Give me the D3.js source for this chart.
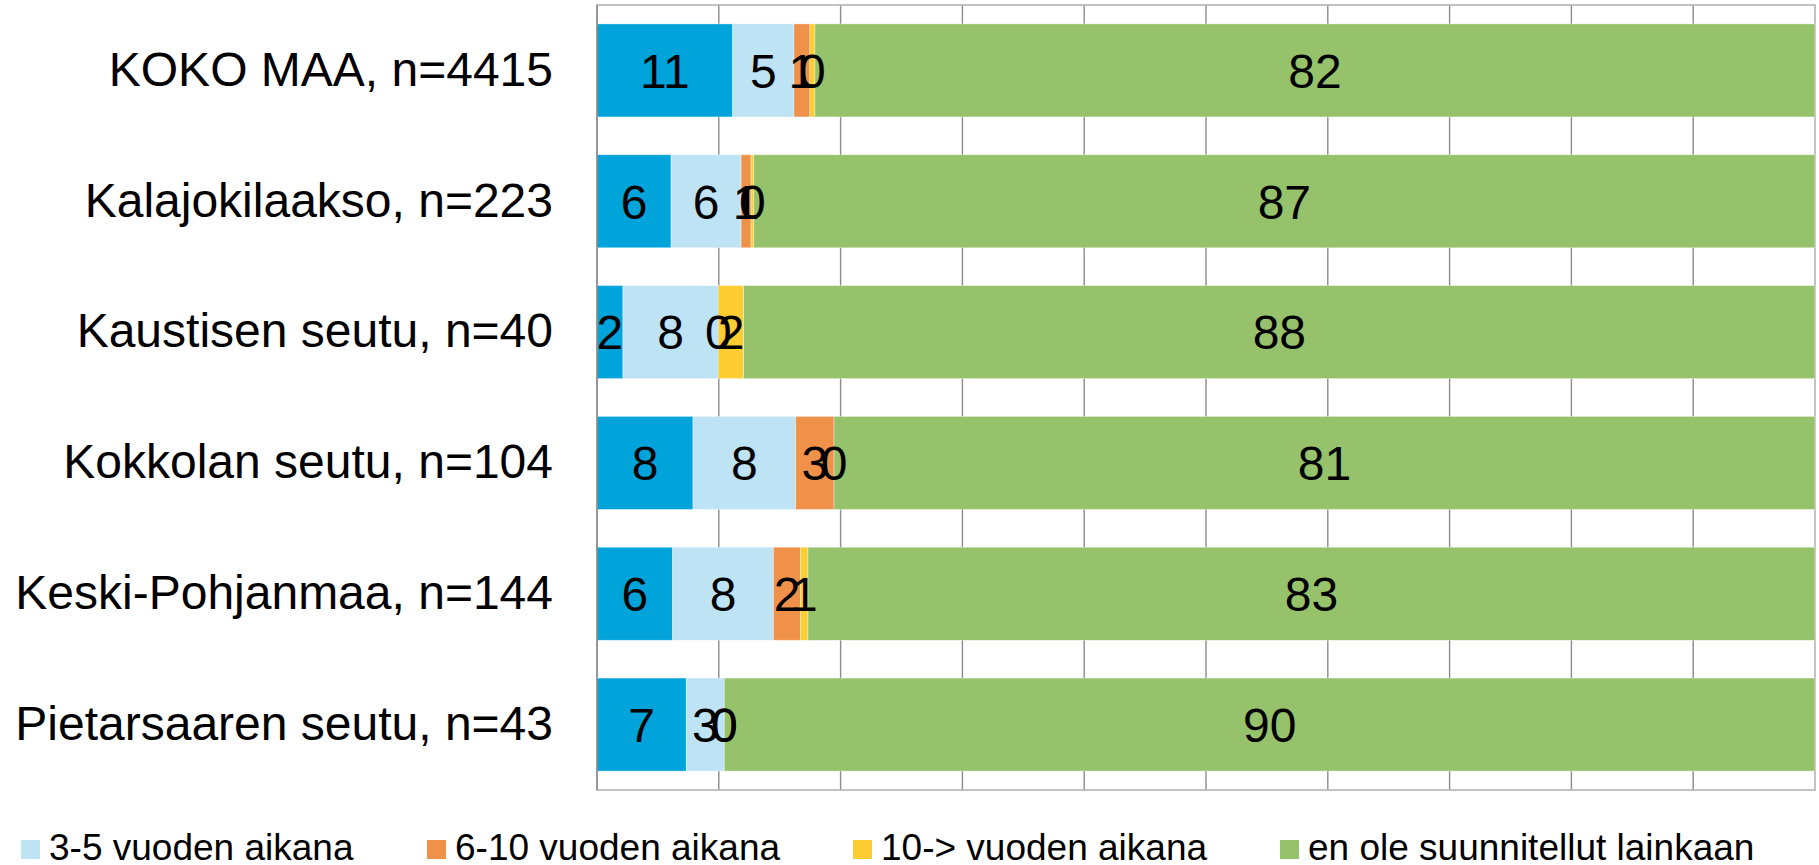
<!DOCTYPE html>
<html>
<head>
<meta charset="utf-8">
<script src="https://cdn.jsdelivr.net/npm/d3@7"></script>
<style>
  html, body { margin: 0; padding: 0; background: #fff; }
  svg { display: block; font-family: "Liberation Sans", Arial, sans-serif; }
</style>
</head>
<body>
<div id="chart"></div>
<script>
// categories, top to bottom
const categories = [
  "KOKO MAA, n=4415",
  "Kalajokilaakso, n=223",
  "Kaustisen seutu, n=40",
  "Kokkolan seutu, n=104",
  "Keski-Pohjanmaa, n=144",
  "Pietarsaaren seutu, n=43"
];

const seriesNames = [
  "alle 3 vuoden aikana",
  "3-5 vuoden aikana",
  "6-10 vuoden aikana",
  "10-> vuoden aikana",
  "en ole suunnitellut lainkaan"
];

// shares in %
const alle3   = [11.14, 6.08, 2.13, 7.88, 6.21, 7.33];
const v3to5   = [5.03, 5.75, 7.83, 8.43, 8.27, 3.12];
const v6to10  = [1.31, 0.82, 0, 3.15, 2.24, 0];
const v10plus = [0.41, 0.22, 2.08, 0, 0.6, 0];
const eiOle   = [82.11, 87.13, 87.96, 80.54, 82.68, 89.55];

const xTicks = [0, 10, 20, 30, 40, 50, 60, 70, 80, 90, 100];

const colors = ["#00a3da", "#bde3f5", "#f0914a", "#fdcd32", "#95c26b"];

const width = 1819, height = 865;
const plot = {left: 597, right: 1815, top: 5, bottom: 790};

const rows = categories.map((c, i) => ({
  cat: c,
  s0: alle3[i], s1: v3to5[i], s2: v6to10[i], s3: v10plus[i], s4: eiOle[i]
}));
const keys = ["s0", "s1", "s2", "s3", "s4"];

const svg = d3.select("#chart").append("svg")
  .attr("width", width)
  .attr("height", height);

const x = d3.scaleLinear().domain([0, 100]).range([plot.left, plot.right]);
const y = d3.scaleBand().domain(categories)
  .range([plot.top, plot.bottom])
  .paddingInner(0.289)
  .paddingOuter(0.1445);

// vertical gridlines
svg.append("g")
  .selectAll("line")
  .data(xTicks.slice(1, -1))
  .join("line")
  .attr("x1", d => x(d)).attr("x2", d => x(d))
  .attr("y1", plot.top).attr("y2", plot.bottom)
  .attr("stroke", "#8c8c8c")
  .attr("stroke-width", 1.4);

// plot frame
svg.append("rect")
  .attr("x", plot.left).attr("y", plot.top)
  .attr("width", plot.right - plot.left)
  .attr("height", plot.bottom - plot.top)
  .attr("fill", "none")
  .attr("stroke", "#b4b4b4")
  .attr("stroke-width", 1.6);

const stack = d3.stack().keys(keys)(rows);

const layer = svg.append("g")
  .selectAll("g")
  .data(stack)
  .join("g")
  .attr("fill", (d, i) => colors[i]);

layer.selectAll("rect")
  .data(d => d)
  .join("rect")
  .attr("x", d => x(d[0]))
  .attr("y", d => y(d.data.cat))
  .attr("width", d => x(d[1]) - x(d[0]))
  .attr("height", y.bandwidth())
  .attr("stroke", "rgba(255,255,255,0.45)")
  .attr("stroke-width", 0.8);

// left axis line
svg.append("line")
  .attr("x1", x(0)).attr("x2", x(0))
  .attr("y1", plot.top).attr("y2", plot.bottom)
  .attr("stroke", "#8c8c8c")
  .attr("stroke-width", 1.6);

// value labels
svg.append("g")
  .selectAll("g")
  .data(stack)
  .join("g")
  .selectAll("text")
  .data(d => d)
  .join("text")
  .attr("x", d => (x(d[0]) + x(d[1])) / 2)
  .attr("y", d => y(d.data.cat) + y.bandwidth() / 2)
  .attr("dy", "0.36em")
  .attr("text-anchor", "middle")
  .attr("font-size", 48)
  .attr("fill", "#000")
  .text(d => Math.round(d[1] - d[0]));

// category labels
svg.append("g")
  .selectAll("text")
  .data(categories)
  .join("text")
  .attr("x", plot.left - 44)
  .attr("y", d => y(d) + y.bandwidth() / 2)
  .attr("dy", "0.32em")
  .attr("text-anchor", "end")
  .attr("font-size", 48)
  .attr("fill", "#000")
  .text(d => d);

// legend (first entry falls outside the picture)
const legendX = [21, 427, 853, 1280];
const legend = svg.append("g")
  .selectAll("g")
  .data(seriesNames.slice(1))
  .join("g")
  .attr("transform", (d, i) => `translate(${legendX[i]},840)`);

legend.append("rect")
  .attr("width", 19).attr("height", 19)
  .attr("fill", (d, i) => colors[i + 1]);

legend.append("text")
  .attr("x", 28)
  .attr("y", 20)
  .attr("font-size", 37)
  .attr("fill", "#000")
  .text(d => d);
</script>
</body>
</html>
